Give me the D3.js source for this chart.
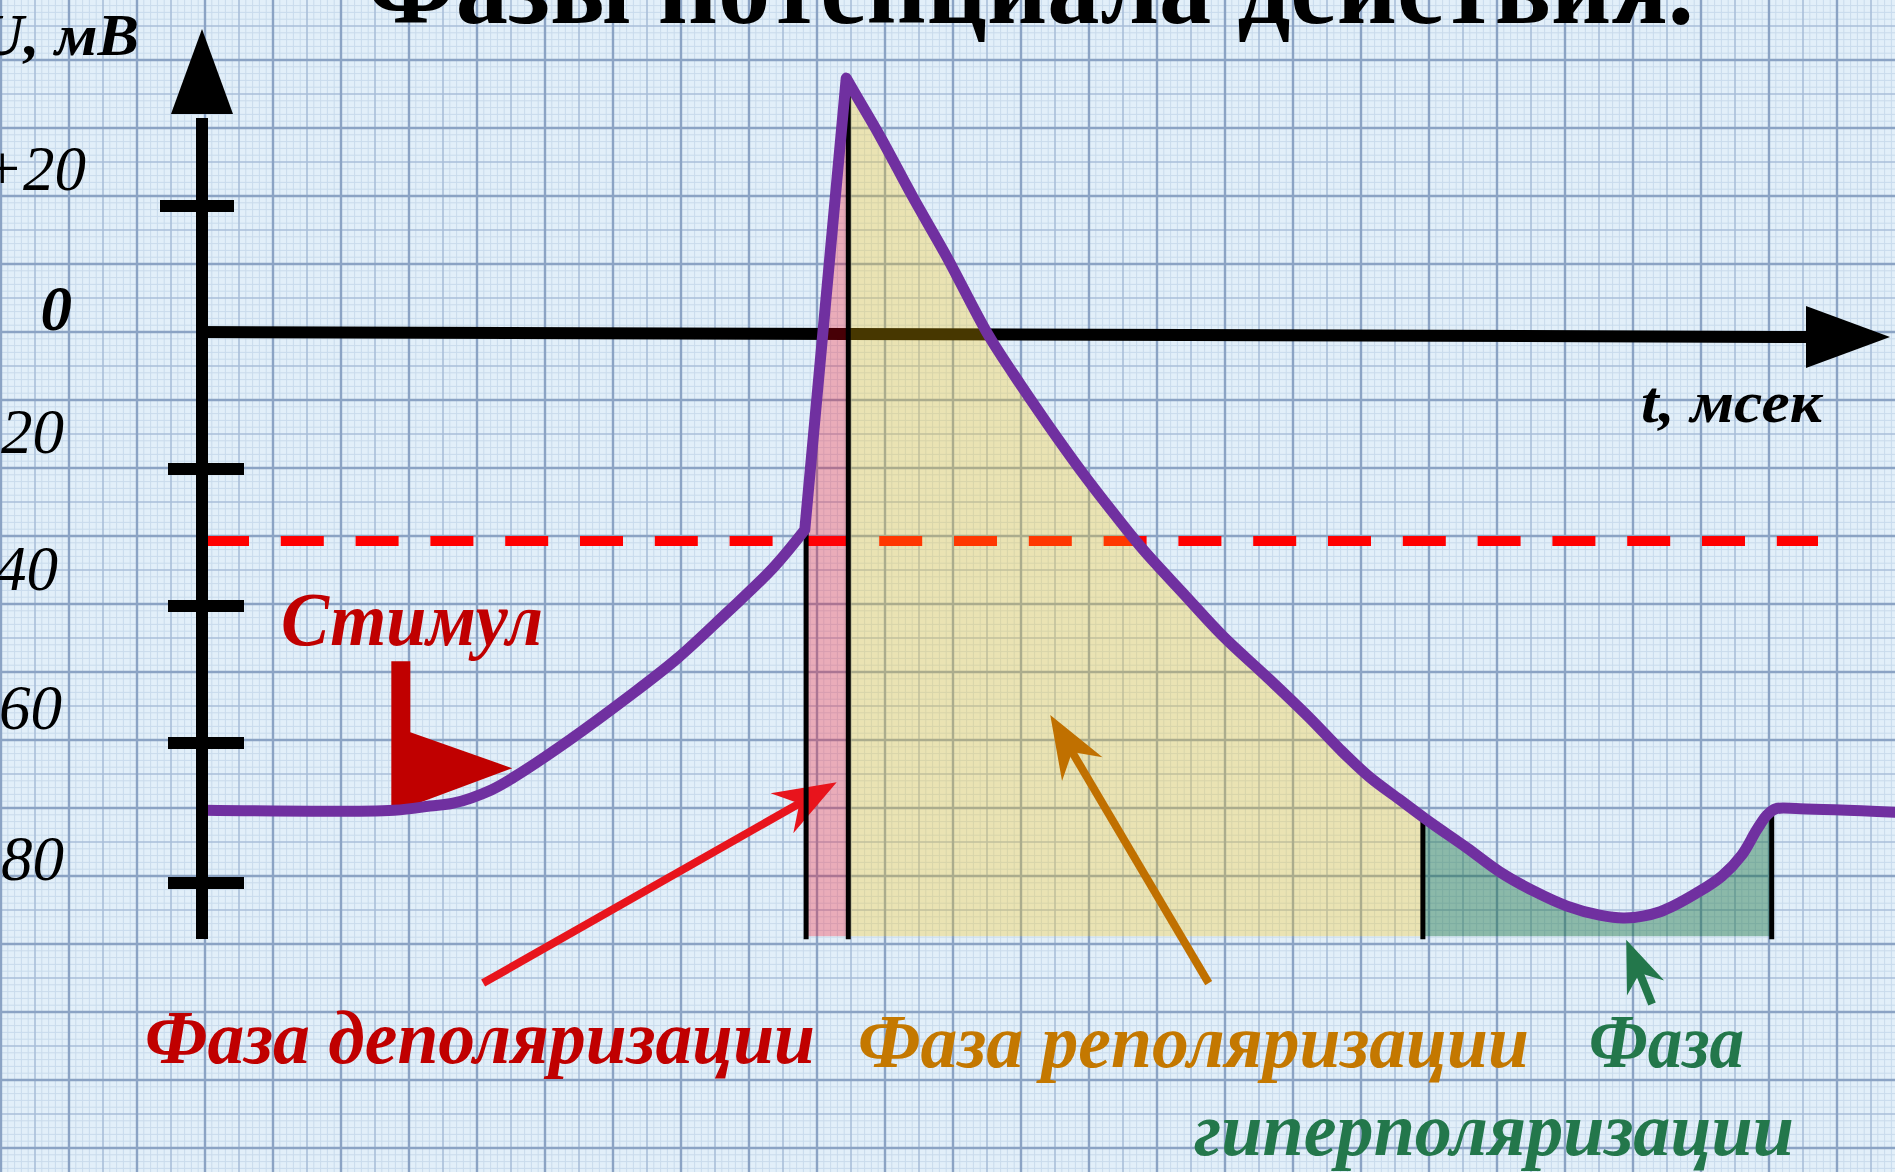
<!DOCTYPE html>
<html>
<head>
<meta charset="utf-8">
<script src="https://cdn.jsdelivr.net/npm/d3@7"></script>
<style>
  html, body { margin: 0; padding: 0; background: #e2eff9; overflow: hidden; }
  svg { display: block; }
</style>
</head>
<body>
<svg id="chart" width="1895" height="1172"></svg>
<script>
// ---------- data ----------
const chartTitle = "Фазы потенциала действия.";
const yAxisTitle = "U, мВ";
const xAxisTitle = "t, мсек";

const yTickValues = [20, 0, -20, -40, -60, -80];
const yTickLabels = ["+20", "0", "-20", "-40", "-60", "-80"];

// resting level, stimulus and slow depolarisation up to threshold (t in ms, U in mV)
const risingT = [0, 2.78, 3.31, 3.65, 4.21, 4.54, 5.34, 6.22, 6.94, 7.65, 8.35, 8.82];
const risingU = [-69.6, -69.6, -69.0, -68.6, -66.7, -64.9, -59.7, -53.3, -47.7, -41.2, -34.5, -28.9];

// spike peak
const peakT = 9.43;
const peakU = 40.3;

// repolarisation, hyperpolarisation and return to rest
const fallingT = [9.43, 9.53, 9.93, 10.41, 10.91, 11.50, 11.88, 12.38, 12.87, 13.35, 13.79,
                  14.38, 14.97, 15.62, 16.25, 16.69, 17.13, 17.57, 17.97, 18.56, 19.04,
                  19.53, 20.03, 20.51, 20.88, 21.40, 21.96, 22.31, 22.60, 22.82, 22.97,
                  23.10, 23.46, 24.85];
const fallingU = [40.3, 38.4, 31.0, 21.4, 11.9, -0.1, -6.0, -13.3, -20.1, -26.3, -31.7,
                  -38.1, -44.4, -50.4, -56.4, -60.9, -64.9, -68.1, -71.0, -75.0, -78.4,
                  -81.1, -83.3, -84.6, -85.0, -84.1, -81.3, -79.0, -76.0, -72.4, -70.3,
                  -69.4, -69.4, -69.9];

const thresholdU = -30.5;
const stimulusT = 2.74;

// phase boundaries (ms)
const phaseNames = ["depolarization", "repolarization", "hyperpolarization"];
const phaseStart = [8.84, 9.46, 17.91];
const phaseEnd   = [9.46, 17.91, 23.04];
const phaseBaseU = -87.6;

const phaseLabels = ["Фаза деполяризации", "Фаза реполяризации", "Фаза", "гиперполяризации"];

// pointer arrows: tail and tip in (ms, mV)
const arrowTail = [[4.09, -94.3], [14.76, -94.3], [21.28, -97.3]];
const arrowTip  = [[9.29, -65.6], [12.43, -55.9], [20.90, -88.1]];

// ---------- layout ----------
const W = 1895, H = 1172;
const svg = d3.select("#chart");

const x = d3.scaleLinear().domain([0, 25]).range([205, 1905]);
const y = d3.scaleLinear().domain(yTickValues).range([206, 332, 469, 606, 743, 883]);

const serif = "'Liberation Serif', 'Times New Roman', serif";
const purple = "#7030a0";
const darkRed = "#c00000";
const orange = "#c47800";
const green = "#23774b";

// ---------- graph paper ----------
const defs = svg.append("defs");
defs.append("filter").attr("id", "soft")
  .append("feGaussianBlur").attr("stdDeviation", 0.6);
const paper = svg.append("g").attr("filter", "url(#soft)");

paper.append("rect").attr("width", W).attr("height", H).attr("fill", "#e2eff9");
const cell = (x(1) - x(0)) / 10;
const x0 = x(0), y0 = y(0);
const gridStyle = k => k % 10 === 0 ? ["#8ba3c4", 2.4] : (k % 5 === 0 ? ["#a9bed9", 1.6] : ["#c9dbec", 1]);
const mod10 = k => ((k % 10) + 10) % 10;
const vk = d3.range(Math.ceil(-x0 / cell), Math.floor((W - x0) / cell) + 1);
const hk = d3.range(Math.ceil(-y0 / cell), Math.floor((H - y0) / cell) + 1);
// minor lines first, heavier ones on top
[[1, 2, 3, 4, 6, 7, 8, 9], [5], [0]].forEach(mods => {
  paper.append("g").selectAll("line").data(vk.filter(k => mods.includes(mod10(k))))
    .join("line")
    .attr("x1", k => x0 + k * cell).attr("x2", k => x0 + k * cell)
    .attr("y1", 0).attr("y2", H)
    .attr("stroke", k => gridStyle(mod10(k))[0])
    .attr("stroke-width", k => gridStyle(mod10(k))[1]);
  paper.append("g").selectAll("line").data(hk.filter(k => mods.includes(mod10(k))))
    .join("line")
    .attr("y1", k => y0 + k * cell).attr("y2", k => y0 + k * cell)
    .attr("x1", 0).attr("x2", W)
    .attr("stroke", k => gridStyle(mod10(k))[0])
    .attr("stroke-width", k => gridStyle(mod10(k))[1]);
});

// ---------- trace geometry ----------
const rising = risingT.map((t, i) => [t, risingU[i]]);
const falling = fallingT.map((t, i) => [t, fallingU[i]]);
const smooth = d3.line().x(d => x(d[0])).y(d => y(d[1])).curve(d3.curveCatmullRom.alpha(0.5));
// smooth rise, straight upstroke to the peak, smooth fall
const tracePath = smooth(rising) + smooth(falling).replace(/^M/, "L");
const baseY = y(phaseBaseU);
const underPath = tracePath +
  `L${x(fallingT[fallingT.length - 1])},${baseY + 4}L${x(risingT[0])},${baseY + 4}Z`;

defs.append("clipPath").attr("id", "under-trace")
  .append("path").attr("d", underPath);

// ---------- x axis (zero line) ----------
const axisEndX = 1806;
svg.append("line")
  .attr("x1", 196).attr("y1", y(0))
  .attr("x2", axisEndX + 4).attr("y2", y(0) + 5)
  .attr("stroke", "#000").attr("stroke-width", 12);
svg.append("path")
  .attr("d", `M${axisEndX},${y(0) + 5 - 31}L1890,${y(0) + 5}L${axisEndX},${y(0) + 5 + 31}Z`)
  .attr("fill", "#000");

// ---------- threshold ----------
svg.append("line")
  .attr("x1", 206).attr("x2", 1818)
  .attr("y1", y(thresholdU)).attr("y2", y(thresholdU))
  .attr("stroke", "#ff0000").attr("stroke-width", 10)
  .attr("stroke-dasharray", "43 31.8");

// ---------- phase fills ----------
const phaseFill = ["rgba(255,0,20,0.28)", "rgba(255,196,0,0.28)", "rgba(20,110,60,0.42)"];
svg.append("g").attr("clip-path", "url(#under-trace)")
  .selectAll("rect").data(phaseNames).join("rect")
  .attr("x", (d, i) => x(phaseStart[i]))
  .attr("width", (d, i) => x(phaseEnd[i]) - x(phaseStart[i]))
  .attr("y", 0)
  .attr("height", baseY)
  .attr("fill", (d, i) => phaseFill[i]);

// ---------- pointer arrows ----------
const arrowColor = ["#e8141c", "#c07000", green];
const arrowHead = [[63, 23, 43], [63, 23.5, 43], [52, 20, 36]];
const arrows = svg.append("g");
arrowTail.forEach((tl, i) => {
  const a = [x(tl[0]), y(tl[1])];
  const b = [x(arrowTip[i][0]), y(arrowTip[i][1])];
  const dx = b[0] - a[0], dy = b[1] - a[1], L = Math.hypot(dx, dy);
  const ux = dx / L, uy = dy / L, px = -uy, py = ux;
  const [hl, hw, nd] = arrowHead[i];
  const bx = b[0] - ux * hl, by = b[1] - uy * hl;
  const nx = b[0] - ux * nd, ny = b[1] - uy * nd;
  arrows.append("line")
    .attr("x1", a[0]).attr("y1", a[1]).attr("x2", nx + ux * 2).attr("y2", ny + uy * 2)
    .attr("stroke", arrowColor[i]).attr("stroke-width", 8);
  arrows.append("path")
    .attr("d", `M${b[0]},${b[1]}L${bx + px * hw},${by + py * hw}L${nx},${ny}L${bx - px * hw},${by - py * hw}Z`)
    .attr("fill", arrowColor[i]);
});

// ---------- phase boundary lines ----------
const bounds = [phaseStart[0], phaseStart[1], phaseStart[2], phaseEnd[2]];
svg.append("g").attr("clip-path", "url(#under-trace)")
  .selectAll("line").data(bounds).join("line")
  .attr("x1", d => x(d)).attr("x2", d => x(d))
  .attr("y1", 0).attr("y2", baseY + 3)
  .attr("stroke", "#000").attr("stroke-width", 5);

// ---------- stimulus marker ----------
const sx = x(stimulusT), sy = y(risingU[0]);
svg.append("path")
  .attr("d", `M${sx},${sy - 149}L${sx + 19},${sy - 149}L${sx + 19},${sy - 78}` +
             `L${sx + 121},${sy - 42}L${sx},${sy + 3}Z`)
  .attr("fill", darkRed);

// ---------- trace ----------
svg.append("path")
  .attr("d", tracePath)
  .attr("fill", "none")
  .attr("stroke", purple)
  .attr("stroke-width", 11)
  .attr("stroke-linecap", "round")
  .attr("stroke-linejoin", "round");

// ---------- y axis ----------
const yAxisX = 202;
svg.append("line")
  .attr("x1", yAxisX).attr("x2", yAxisX)
  .attr("y1", 939).attr("y2", 118)
  .attr("stroke", "#000").attr("stroke-width", 12);
svg.append("path")
  .attr("d", `M${yAxisX - 31},114L${yAxisX},29L${yAxisX + 31},114Z`)
  .attr("fill", "#000");
svg.append("g").selectAll("line").data(yTickValues.filter(v => v !== 0)).join("line")
  .attr("x1", d => d === 20 ? 160 : 168).attr("x2", d => d === 20 ? 234 : 244)
  .attr("y1", d => y(d)).attr("y2", d => y(d))
  .attr("stroke", "#000").attr("stroke-width", 12);

// tick labels sit a little above their tick marks, left of the axis
const labelNudge = { "20": [86, -16], "0": [72, -2], "-20": [64, -16], "-40": [58, -16], "-60": [62, -14], "-80": [64, -3] };
svg.append("g").selectAll("text").data(yTickValues).join("text")
  .attr("x", d => labelNudge[d][0])
  .attr("y", d => y(d) + labelNudge[d][1])
  .attr("text-anchor", "end")
  .attr("font-family", serif)
  .attr("font-style", "italic")
  .attr("font-weight", d => d === 0 ? "bold" : "normal")
  .attr("font-size", 63)
  .attr("fill", "#000")
  .text((d, i) => yTickLabels[i]);

// ---------- texts ----------
function label(txt, px, py, size, color, len, opts = {}) {
  const t = svg.append("text")
    .attr("x", px).attr("y", py)
    .attr("font-family", serif)
    .attr("font-size", size)
    .attr("font-weight", "bold")
    .attr("font-style", opts.upright ? "normal" : "italic")
    .attr("fill", color)
    .attr("text-anchor", opts.anchor || "start")
    .text(txt);
  if (len) t.attr("textLength", len).attr("lengthAdjust", "spacingAndGlyphs");
  return t;
}

label(chartTitle, 366, 23, 108, "#000", 1328, { upright: true });
label(yAxisTitle, 139, 55, 60, "#000", 160, { anchor: "end" });
label(xAxisTitle, 1641, 422, 60, "#000", 181);
label("Стимул", 281, 645, 76, darkRed, 262);
label(phaseLabels[0], 145, 1063, 76, darkRed, 670);
label(phaseLabels[1], 858, 1067, 76, orange, 671);
label(phaseLabels[2], 1589, 1067, 76, green, 155);
label(phaseLabels[3], 1194, 1155, 76, green, 600);
</script>
</body>
</html>
